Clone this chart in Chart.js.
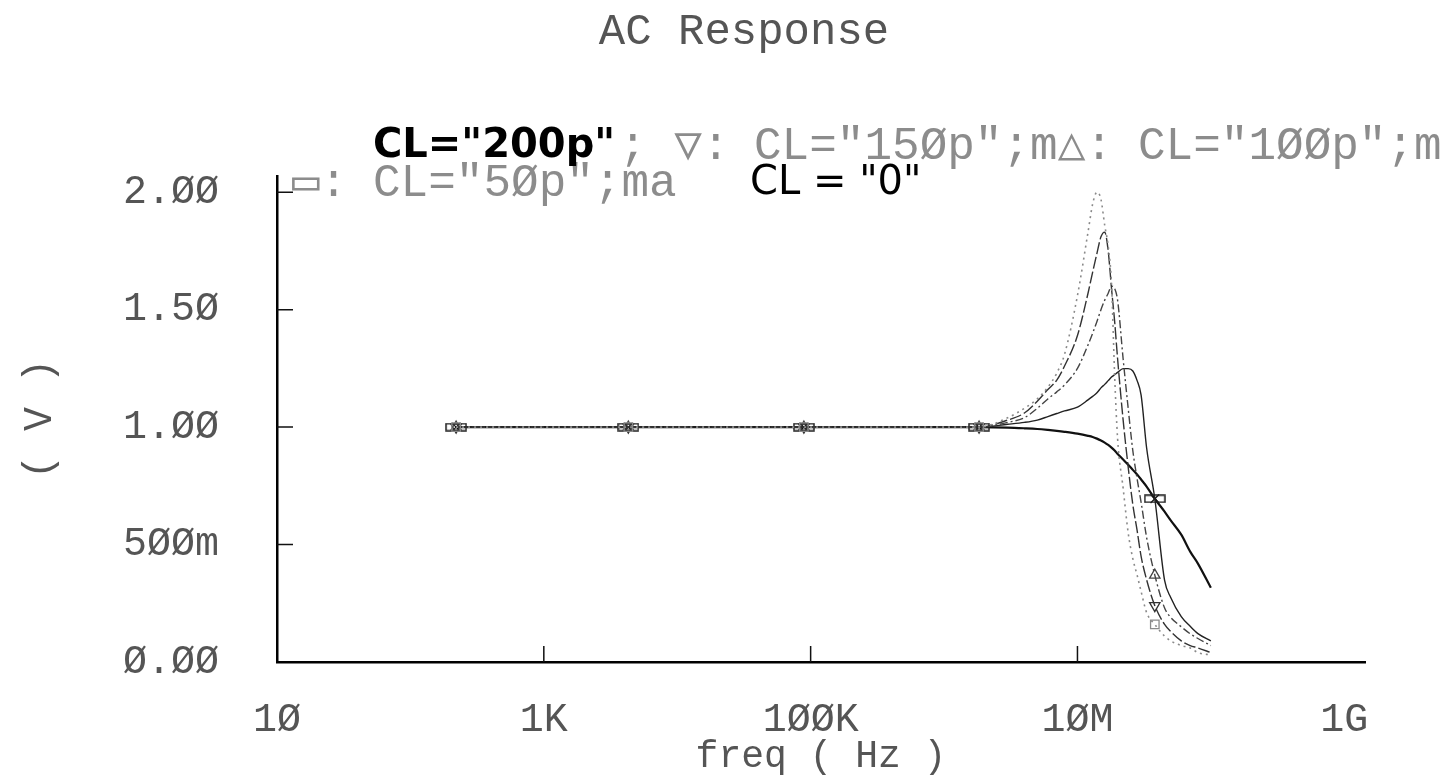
<!DOCTYPE html>
<html>
<head>
<meta charset="utf-8">
<title>AC Response</title>
<script src="https://cdn.jsdelivr.net/npm/chart.js@4/dist/chart.umd.min.js"></script>
<style>
  html, body { margin: 0; padding: 0; background: #fff; }
  #wrap { width: 1455px; height: 775px; }
</style>
</head>
<body>
<div id="wrap"><canvas id="ac" width="1455" height="775"></canvas></div>
<script>
// ---- data ----
const FREQ = [220, 4.3e3, 8.9e4, 1.83e6, 3e6, 4e6, 5e6, 6e6, 7e6, 8e6, 10e6, 12e6, 13e6, 14e6, 15e6,
  16e6, 17e6, 18e6, 19e6, 20e6, 22e6, 24e6, 26e6, 28e6, 30e6, 33e6, 38e6, 45e6, 50e6, 60e6, 70e6, 80e6, 100e6];

const CL200 = [1.0, 1.0, 1.0, 1.0, 1.04, 1.08, 1.12, 1.17, 1.23, 1.31, 1.56, 1.83, 1.95, 2.0, 1.97,
  1.86, 1.77, 1.61, 1.22, 0.95, 0.74, 0.55, 0.44, 0.37, 0.3, 0.21, 0.16, 0.11, 0.09, 0.07, 0.06, 0.04, 0.03];
const CL150 = [1.0, 1.0, 1.0, 1.0, 1.03, 1.06, 1.11, 1.16, 1.2, 1.26, 1.39, 1.57, 1.66, 1.74, 1.81,
  1.83, 1.75, 1.59, 1.45, 1.29, 1.03, 0.83, 0.67, 0.56, 0.45, 0.35, 0.24, 0.16, 0.13, 0.09, 0.07, 0.06, 0.04];
const CL100 = [1.0, 1.0, 1.0, 1.0, 1.02, 1.04, 1.08, 1.12, 1.15, 1.18, 1.25, 1.35, 1.4, 1.45, 1.5,
  1.54, 1.57, 1.6, 1.59, 1.54, 1.29, 1.08, 0.9, 0.78, 0.68, 0.53, 0.37, 0.23, 0.19, 0.15, 0.12, 0.1, 0.07];
const CL50 = [1.0, 1.0, 1.0, 1.0, 1.012, 1.02, 1.03, 1.045, 1.058, 1.069, 1.085, 1.116, 1.131, 1.146, 1.167,
  1.182, 1.198, 1.213, 1.223, 1.233, 1.249, 1.249, 1.239, 1.198, 1.136, 0.911, 0.695, 0.347, 0.275, 0.193, 0.152, 0.121, 0.09];
const CL0 = [1.0, 1.0, 1.0, 1.0, 0.998, 0.995, 0.992, 0.988, 0.984, 0.98, 0.972, 0.963, 0.958, 0.951, 0.943,
  0.934, 0.924, 0.913, 0.9, 0.886, 0.862, 0.84, 0.818, 0.798, 0.777, 0.747, 0.695, 0.64, 0.603, 0.542, 0.47, 0.419, 0.316];

const MARKER_FREQ = [220, 4.3e3, 8.9e4, 1.83e6, 38e6];

const X_TICKS = [10, 1e3, 1e5, 1e7, 1e9];
const X_LABELS = ['1Ø', '1K', '1ØØK', '1ØM', '1G'];
const Y_TICKS = [0, 0.5, 1, 1.5, 2];
const Y_LABELS = ['Ø.ØØ', '5ØØm', '1.ØØ', '1.5Ø', '2.ØØ'];

const SERIES_NAMES = ['CL="200p"', 'CL="150p"', 'CL="100p"', 'CL="50p"', 'CL="0"'];

const MONO = '"Liberation Mono", "DejaVu Sans Mono", monospace';
const HAND = '"DejaVu Sans", sans-serif';

// flat box marker used by the 50p trace
function flatBox() {
  const c = document.createElement('canvas');
  c.width = 22; c.height = 9;
  const g = c.getContext('2d');
  g.strokeStyle = '#222';
  g.lineWidth = 1.5;
  g.strokeRect(1, 1, 20, 7);
  return c;
}

const pts = (vals) => FREQ.map((f, i) => ({ x: f, y: vals[i] }));
const markerRadius = (r) => (ctx) => MARKER_FREQ.includes(FREQ[ctx.dataIndex]) ? r : 0;

function trace(name, vals, color, width, dash, style, rot) {
  return {
    label: name,
    data: pts(vals),
    borderColor: color,
    borderWidth: width,
    borderDash: dash,
    pointStyle: style,
    pointRotation: rot || 0,
    pointRadius: markerRadius(6),
    pointBorderColor: color,
    pointBorderWidth: 1.3,
    pointBackgroundColor: 'rgba(0,0,0,0)',
    cubicInterpolationMode: 'monotone',
    fill: false
  };
}

// inward tick marks on both axes
const inwardTicks = {
  id: 'inwardTicks',
  afterDraw(chart) {
    const { ctx, chartArea: a, scales: { x, y } } = chart;
    ctx.save();
    ctx.strokeStyle = '#111';
    ctx.lineWidth = 1.5;
    ctx.beginPath();
    Y_TICKS.slice(1).forEach(v => {
      const py = y.getPixelForValue(v);
      ctx.moveTo(a.left, py);
      ctx.lineTo(a.left + 16, py);
    });
    X_TICKS.slice(1, -1).forEach(f => {
      const px = x.getPixelForValue(f);
      ctx.moveTo(px, a.bottom);
      ctx.lineTo(px, a.bottom - 16);
    });
    ctx.stroke();
    ctx.restore();
  }
};

// the printed legend lines plus the hand-written labels over them
const notes = {
  id: 'notes',
  afterDraw(chart) {
    const c = chart.ctx;
    c.save();
    c.textBaseline = 'middle';
    c.textAlign = 'left';
    c.fillStyle = '#8c8c8c';
    c.font = '46px ' + MONO;
    c.fillText('; ▽:', 619, 147);
    c.fillText('CL="15Øp";m△:', 754, 147);
    c.fillText('CL="1ØØp";m', 1138, 147);
    c.fillText('▭:', 292, 184);
    c.fillText('CL="5Øp";ma', 373, 184);
    c.fillStyle = '#000';
    c.font = 'bold 40px ' + HAND;
    c.fillText(SERIES_NAMES[0], 373, 147);
    c.font = '40px ' + HAND;
    c.fillText('CL = "0"', 750, 184);
    c.restore();
  }
};

new Chart(document.getElementById('ac'), {
  type: 'line',
  data: {
    datasets: [
      trace(SERIES_NAMES[0], CL200, '#8a8a8a', 1.6, [2, 4], 'rect'),
      trace(SERIES_NAMES[1], CL150, '#333', 1.4, [12, 3], 'triangle', 180),
      trace(SERIES_NAMES[2], CL100, '#444', 1.4, [8, 3, 2, 3], 'triangle'),
      trace(SERIES_NAMES[3], CL50, '#222', 1.4, [], flatBox()),
      trace(SERIES_NAMES[4], CL0, '#111', 2.2, [], 'crossRot')
    ]
  },
  options: {
    responsive: false,
    animation: false,
    layout: { padding: { left: 123, right: 90, top: 0, bottom: 0 } },
    plugins: {
      legend: { display: false },
      tooltip: { enabled: false },
      title: {
        display: true,
        text: 'AC Response',
        color: '#555',
        font: { family: MONO, size: 44, weight: 'normal' },
        padding: { top: 6, bottom: 117 }
      }
    },
    scales: {
      x: {
        type: 'logarithmic',
        min: 10,
        max: 1.43e9,
        grid: { display: false, drawTicks: false },
        border: { display: true, color: '#000', width: 2.5 },
        afterBuildTicks: (s) => { s.ticks = X_TICKS.map(v => ({ value: v })); },
        afterFit: (s) => { s.height = 113; },
        ticks: {
          autoSkip: false,
          maxRotation: 0,
          padding: 34,
          color: '#555',
          font: { family: MONO, size: 40 },
          callback: (v, i) => X_LABELS[i]
        },
        title: {
          display: true,
          text: 'freq ( Hz )',
          color: '#555',
          font: { family: MONO, size: 38 },
          padding: { top: 0, bottom: -5 }
        }
      },
      y: {
        min: 0,
        max: 2.07,
        grid: { display: false, drawTicks: false },
        border: { display: true, color: '#000', width: 2.5 },
        afterBuildTicks: (s) => { s.ticks = Y_TICKS.map(v => ({ value: v })); },
        afterFit: (s) => { s.width = 154; },
        ticks: {
          crossAlign: 'far',
          color: '#555',
          font: { family: MONO, size: 40 },
          callback: (v) => { const i = Y_TICKS.indexOf(v); return i >= 0 ? Y_LABELS[i] : ''; }
        },
        title: {
          display: true,
          text: '( V )',
          color: '#555',
          font: { family: MONO, size: 40 },
          padding: { top: -107, bottom: 0 }
        }
      }
    }
  },
  plugins: [inwardTicks, notes]
});
</script>
</body>
</html>
